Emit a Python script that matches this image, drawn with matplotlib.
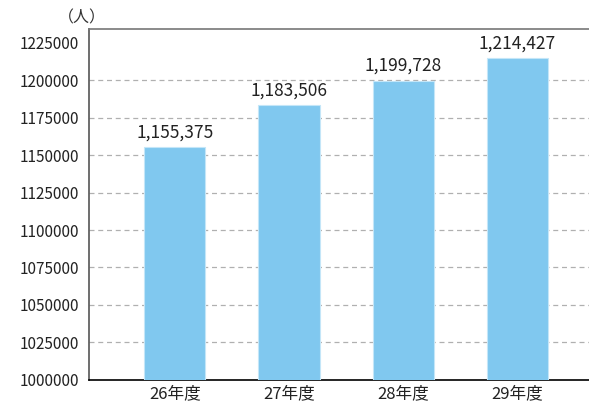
import matplotlib
matplotlib.use("Agg")
import matplotlib.pyplot as plt

plt.rcParams['font.family'] = ['Noto Sans CJK JP', 'DejaVu Sans']

# data
years = ["26年度", "27年度", "28年度", "29年度"]
people = [1155375, 1183506, 1199728, 1214427]
yticks = [1000000, 1025000, 1050000, 1075000, 1100000, 1125000,
          1150000, 1175000, 1200000, 1225000]

fig = plt.figure(figsize=(5.89, 4.05), dpi=100)
ax = fig.add_axes([0.151, 0.062, 0.849, 0.866])

xs = range(len(years))
ax.bar(xs, people, width=0.535, color="#80c8ef", edgecolor="#c4e6f8",
       linewidth=0.8, zorder=3)

for x, v in zip(xs, people):
    ax.annotate(f"{v:,}", (x, v), xytext=(0, 4), textcoords="offset points",
                ha="center", va="bottom", fontsize=12.5, color="#222222")

ax.set_xlim(-0.754, 3.63)
ax.set_ylim(1000000, 1234000)
ax.set_yticks(yticks)
ax.set_yticklabels([str(t) for t in yticks])
ax.set_xticks(list(xs))
ax.set_xticklabels(years)
ax.tick_params(axis="both", length=0, colors="#222222")
ax.tick_params(axis="y", pad=7, labelsize=11)
ax.tick_params(axis="x", pad=4, labelsize=12)

# dashed grid, none at the top value
for t in yticks[1:-1]:
    ax.axhline(t, color="#b0b0b0", linestyle=(0, (4, 3)), linewidth=0.9, zorder=1)

ax.spines["right"].set_visible(False)
ax.spines["top"].set_color("#777777")
ax.spines["left"].set_color("#555555")
ax.spines["bottom"].set_color("#000000")
for s in ["top", "left", "bottom"]:
    ax.spines[s].set_linewidth(1.2)

fig.text(0.098, 0.955, "（人）", fontsize=11.5, color="#333333", ha="left", va="center")

fig.savefig("out.png", dpi=100)
